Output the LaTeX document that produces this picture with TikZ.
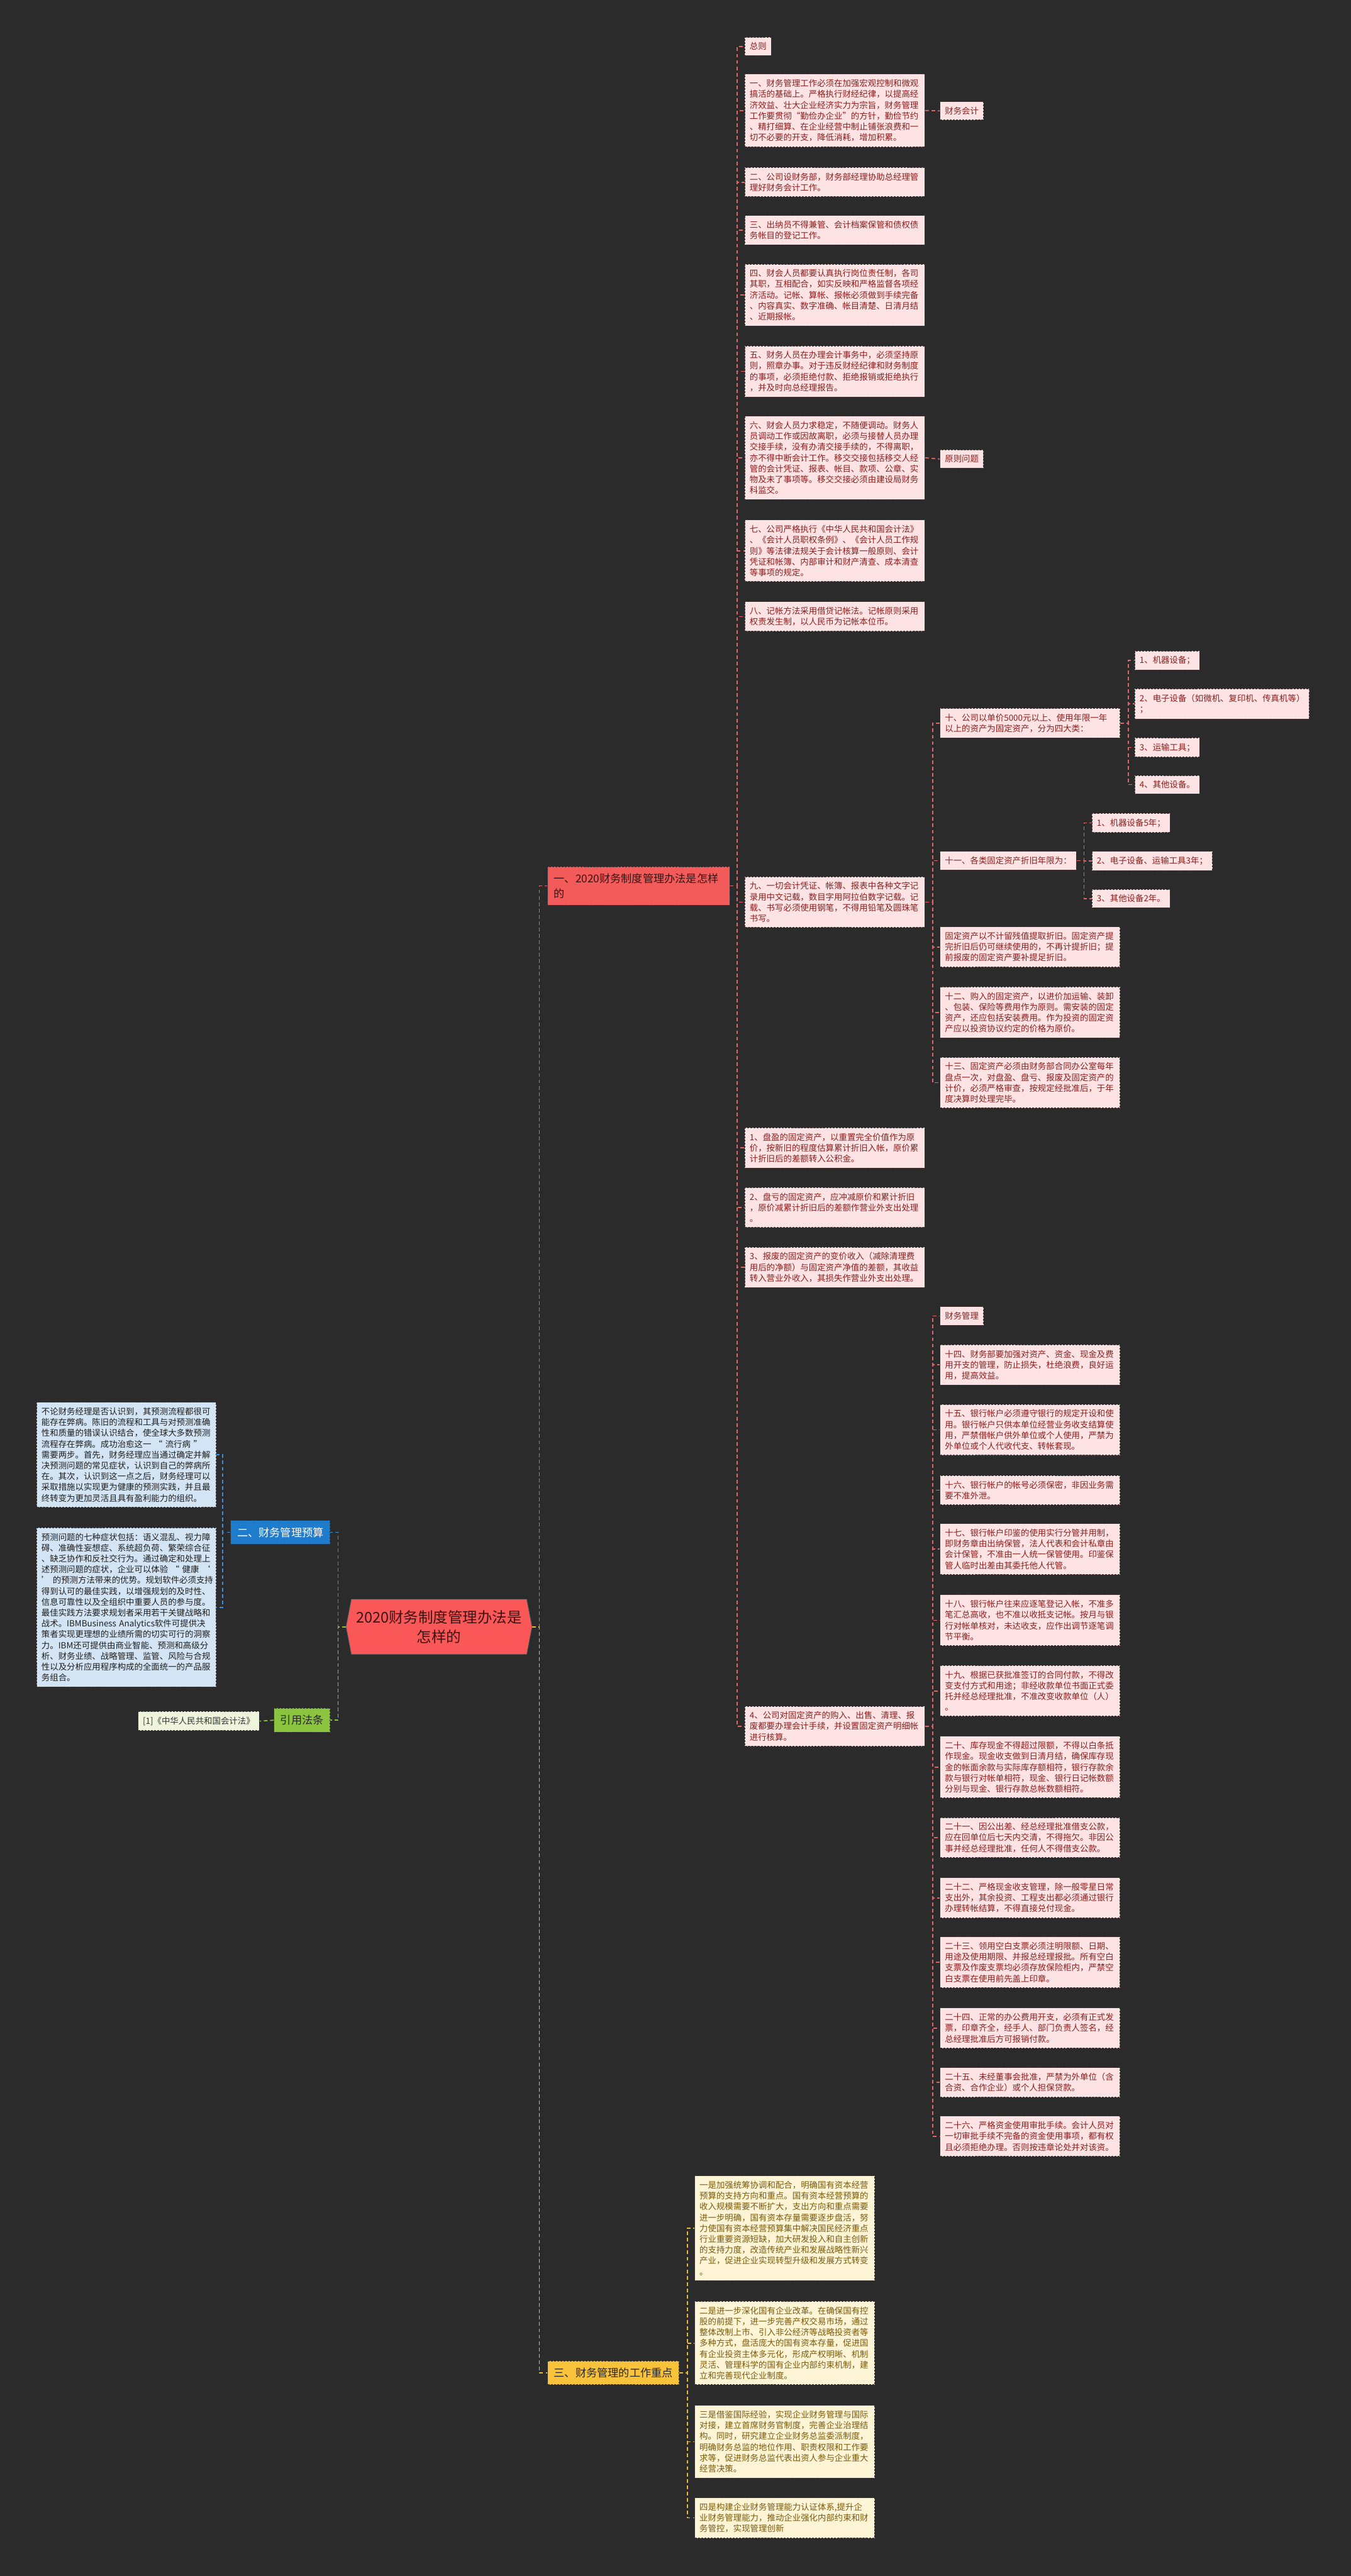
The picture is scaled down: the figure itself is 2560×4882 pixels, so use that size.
\documentclass[tikz,border=0pt]{standalone}
\usepackage{fontspec}
\setmainfont{Noto Sans CJK SC}
\usetikzlibrary{
  positioning % 节点相对定位
}
% 颜色
\definecolor{bgdark}{HTML}{2B2B2B}
\definecolor{rootred}{HTML}{FA5858}
\definecolor{roottext}{HTML}{3A1212}
\definecolor{linkred}{HTML}{E36464}
\definecolor{pinkfill}{HTML}{FDE3E3}
\definecolor{pinktext}{HTML}{8B1E1E}
\definecolor{topicred}{HTML}{F35A5A}
\definecolor{topicblue}{HTML}{1F7BCB}
\definecolor{linkblue}{HTML}{3C8FDD}
\definecolor{bluefill}{HTML}{D3E5F4}
\definecolor{bluetext}{HTML}{1E1E1E}
\definecolor{topicgreen}{HTML}{8BC53F}
\definecolor{citefill}{HTML}{EEF5DC}
\definecolor{topicyellow}{HTML}{F8C23A}
\definecolor{linkyellow}{HTML}{E9BB3C}
\definecolor{creamfill}{HTML}{FDF5D6}
\definecolor{creamtext}{HTML}{7A5A0C}
\definecolor{boxedge}{HTML}{3A3A3A}
% 字号
\newcommand\leaffont{\fontsize{16}{20.5}\selectfont}
\newcommand\topicfont{\fontsize{20.5}{28}\selectfont}
\newcommand\rootfont{\fontsize{28}{37}\selectfont}
\tikzset{
  leaf base/.style={
    rectangle,
    draw=boxedge,
    line width=1.2pt,
    dash pattern=on 4pt off 2pt,
    inner xsep=9pt,
    inner ysep=10pt,
    align=left,
    anchor=north west,
    font=\leaffont
  },
  pink leaf/.style={leaf base, fill=pinkfill, text=pinktext},
  pink para/.style={pink leaf, text width=323pt},
  blue para/.style={leaf base, fill=bluefill, text=bluetext, text width=322pt},
  cream para/.style={leaf base, fill=creamfill, text=creamtext, text width=323pt},
  cite leaf/.style={leaf base, fill=citefill, text=black!80, anchor=north east},
  topic box/.style={
    rectangle,
    draw=boxedge,
    line width=1.2pt,
    dash pattern=on 4pt off 2pt,
    inner xsep=12pt,
    inner ysep=13pt,
    align=left,
    font=\topicfont
  },
  red topic/.style={topic box, fill=topicred, text=roottext, anchor=north west, text width=321pt},
  blue topic/.style={topic box, fill=topicblue, text=white, anchor=north east},
  green topic/.style={topic box, fill=topicgreen, text=black!85, anchor=north east},
  yellow topic/.style={topic box, fill=topicyellow, text=black!85, anchor=north west},
  root node/.style={
    rectangle,
    inner sep=0pt,
    minimum width=352pt,
    minimum height=104pt,
    align=center,
    text=roottext,
    font=\rootfont
  },
  red link/.style={draw=linkred, line width=2pt, dash pattern=on 7pt off 5pt},
  blue link/.style={draw=linkblue, line width=2pt, dash pattern=on 7pt off 5pt},
  green link/.style={draw=topicgreen, line width=2pt, dash pattern=on 7pt off 5pt},
  yellow link/.style={draw=linkyellow, line width=2pt, dash pattern=on 7pt off 5pt}
}

\begin{document}
\begin{tikzpicture}[x=1pt, y=-1pt]
    % --- 画布与背景 ---
    \useasboundingbox (0,0) rectangle (2560,4882);
    \fill[bgdark] (0,0) rectangle (2560,4882);

    % --- 中心主题 (六边形) ---
    \filldraw[fill=rootred, draw=black!60, line width=1pt]
      (656,3083) -- (666,3031) -- (998,3031) -- (1008,3083) -- (998,3135) -- (666,3135) -- cycle;
    \node[root node] (root) at (832,3083) {2020财务制度管理办法是\\怎样的};

    % --- 一级分支 ---
    \node[red topic] (sec1) at (1037,1642) {一、2020财务制度管理办法是怎样\\的};
    \node[blue topic] (sec2) at (626,2881) {二、财务管理预算};
    \node[green topic] (cite) at (626,3237) {引用法条};
    \node[yellow topic] (sec3) at (1037,4474) {三、财务管理的工作重点};

    % --- 分支一: 总则至第九条 ---
    \node[pink leaf] (g0) at (1411,70) {总则};
    \node[pink para] (g1) at (1411,140) {一、财务管理工作必须在加强宏观控制和微观\\
      搞活的基础上。严格执行财经纪律，以提高经\\
      济效益、壮大企业经济实力为宗旨，财务管理\\
      工作要贯彻“勤俭办企业”的方针，勤俭节约\\
      、精打细算、在企业经营中制止铺张浪费和一\\
      切不必要的开支，降低消耗，增加积累。};
    \node[pink para] (g2) at (1411,317) {二、公司设财务部，财务部经理协助总经理管\\
      理好财务会计工作。};
    \node[pink para] (g3) at (1411,408) {三、出纳员不得兼管、会计档案保管和债权债\\
      务帐目的登记工作。};
    \node[pink para] (g4) at (1411,500) {四、财会人员都要认真执行岗位责任制，各司\\
      其职，互相配合，如实反映和严格监督各项经\\
      济活动。记帐、算帐、报帐必须做到手续完备\\
      、内容真实、数字准确、帐目清楚、日清月结\\
      、近期报帐。};
    \node[pink para] (g5) at (1411,655) {五、财务人员在办理会计事务中，必须坚持原\\
      则，照章办事。对于违反财经纪律和财务制度\\
      的事项，必须拒绝付款、拒绝报销或拒绝执行\\
      ，并及时向总经理报告。};
    \node[pink para] (g6) at (1411,788) {六、财会人员力求稳定，不随便调动。财务人\\
      员调动工作或因故离职，必须与接替人员办理\\
      交接手续，没有办清交接手续的，不得离职，\\
      亦不得中断会计工作。移交交接包括移交人经\\
      管的会计凭证、报表、帐目、款项、公章、实\\
      物及未了事项等。移交交接必须由建设局财务\\
      科监交。};
    \node[pink para] (g7) at (1411,985) {七、公司严格执行《中华人民共和国会计法》\\
      、《会计人员职权条例》、《会计人员工作规\\
      则》等法律法规关于会计核算一般原则、会计\\
      凭证和帐簿、内部审计和财产清查、成本清查\\
      等事项的规定。};
    \node[pink para] (g8) at (1411,1140) {八、记帐方法采用借贷记帐法。记帐原则采用\\
      权责发生制，以人民币为记帐本位币。};
    \node[pink para] (g9) at (1411,1661) {九、一切会计凭证、帐簿、报表中各种文字记\\
      录用中文记载，数目字用阿拉伯数字记载。记\\
      载、书写必须使用钢笔，不得用铅笔及圆珠笔\\
      书写。};
    \node[pink para] (pan1) at (1411,2137) {1、盘盈的固定资产，以重置完全价值作为原\\
      价，按新旧的程度估算累计折旧入帐，原价累\\
      计折旧后的差额转入公积金。};
    \node[pink para] (pan2) at (1411,2250) {2、盘亏的固定资产，应冲减原价和累计折旧\\
      ，原价减累计折旧后的差额作营业外支出处理\\
      。};
    \node[pink para] (pan3) at (1411,2363) {3、报废的固定资产的变价收入（减除清理费\\
      用后的净额）与固定资产净值的差额，其收益\\
      转入营业外收入，其损失作营业外支出处理。};
    \node[pink para] (pan4) at (1411,3233) {4、公司对固定资产的购入、出售、清理、报\\
      废都要办理会计手续，并设置固定资产明细帐\\
      进行核算。};

    % --- 小标题 ---
    \node[pink leaf] (kj) at (1781,192) {财务会计};
    \node[pink leaf] (yz) at (1781,852) {原则问题};

    % --- 第九条下属: 固定资产 ---
    \node[pink para] (g9a) at (1781,1342) {十、公司以单价5000元以上、使用年限一年\\
      以上的资产为固定资产，分为四大类：};
    \node[pink leaf] (g9b) at (1781,1613) {十一、各类固定资产折旧年限为：};
    \node[pink para] (g9c) at (1781,1756) {固定资产以不计留残值提取折旧。固定资产提\\
      完折旧后仍可继续使用的，不再计提折旧；提\\
      前报废的固定资产要补提足折旧。};
    \node[pink para] (g9d) at (1781,1870) {十二、购入的固定资产，以进价加运输、装卸\\
      、包装、保险等费用作为原则。需安装的固定\\
      资产，还应包括安装费用。作为投资的固定资\\
      产应以投资协议约定的价格为原价。};
    \node[pink para] (g9e) at (1781,2003) {十三、固定资产必须由财务部合同办公室每年\\
      盘点一次，对盘盈、盘亏、报废及固定资产的\\
      计价，必须严格审查，按规定经批准后，于年\\
      度决算时处理完毕。};

    \node[pink leaf] (t1) at (2150,1233) {1、机器设备；};
    \node[pink leaf] (t2) at (2150,1305) {2、电子设备（如微机、复印机、传真机等）\\；};
    \node[pink leaf] (t3) at (2150,1398) {3、运输工具；};
    \node[pink leaf] (t4) at (2150,1469) {4、其他设备。};

    \node[pink leaf] (y1) at (2069,1541) {1、机器设备5年；};
    \node[pink leaf] (y2) at (2069,1613) {2、电子设备、运输工具3年；};
    \node[pink leaf] (y3) at (2069,1685) {3、其他设备2年。};

    % --- 第四条下属: 财务管理 ---
    \node[pink leaf] (fm) at (1781,2476) {财务管理};
    \node[pink para] (f14) at (1781,2548) {十四、财务部要加强对资产、资金、现金及费\\
      用开支的管理，防止损失，杜绝浪费，良好运\\
      用，提高效益。};
    \node[pink para] (f15) at (1781,2661) {十五、银行帐户必须遵守银行的规定开设和使\\
      用。银行帐户只供本单位经营业务收支结算使\\
      用，严禁借帐户供外单位或个人使用，严禁为\\
      外单位或个人代收代支、转帐套现。};
    \node[pink para] (f16) at (1781,2796) {十六、银行帐户的帐号必须保密，非因业务需\\
      要不准外泄。};
    \node[pink para] (f17) at (1781,2887) {十七、银行帐户印鉴的使用实行分管并用制，\\
      即财务章由出纳保管，法人代表和会计私章由\\
      会计保管，不准由一人统一保管使用。印鉴保\\
      管人临时出差由其委托他人代管。};
    \node[pink para] (f18) at (1781,3022) {十八、银行帐户往来应逐笔登记入帐，不准多\\
      笔汇总高收，也不准以收抵支记帐。按月与银\\
      行对帐单核对，未达收支，应作出调节逐笔调\\
      节平衡。};
    \node[pink para] (f19) at (1781,3156) {十九、根据已获批准签订的合同付款，不得改\\
      变支付方式和用途；非经收款单位书面正式委\\
      托并经总经理批准，不准改变收款单位（人）\\
      。};
    \node[pink para] (f20) at (1781,3290) {二十、库存现金不得超过限额，不得以白条抵\\
      作现金。现金收支做到日清月结，确保库存现\\
      金的帐面余款与实际库存额相符，银行存款余\\
      款与银行对帐单相符，现金、银行日记帐数额\\
      分别与现金、银行存款总帐数额相符。};
    \node[pink para] (f21) at (1781,3444) {二十一、因公出差、经总经理批准借支公款，\\
      应在回单位后七天内交清，不得拖欠。非因公\\
      事并经总经理批准，任何人不得借支公款。};
    \node[pink para] (f22) at (1781,3558) {二十二、严格现金收支管理，除一般零星日常\\
      支出外，其余投资、工程支出都必须通过银行\\
      办理转帐结算，不得直接兑付现金。};
    \node[pink para] (f23) at (1781,3670) {二十三、领用空白支票必须注明限额、日期、\\
      用途及使用期限、并报总经理报批。所有空白\\
      支票及作废支票均必须存放保险柜内，严禁空\\
      白支票在使用前先盖上印章。};
    \node[pink para] (f24) at (1781,3805) {二十四、正常的办公费用开支，必须有正式发\\
      票，印章齐全，经手人、部门负责人签名，经\\
      总经理批准后方可报销付款。};
    \node[pink para] (f25) at (1781,3918) {二十五、未经董事会批准，严禁为外单位（含\\
      合资、合作企业）或个人担保贷款。};
    \node[pink para] (f26) at (1781,4010) {二十六、严格资金使用审批手续。会计人员对\\
      一切审批手续不完备的资金使用事项，都有权\\
      且必须拒绝办理。否则按违章论处并对该资。};

    % --- 分支二: 财务管理预算 ---
    \node[blue para] (bud1) at (69,2657) {不论财务经理是否认识到，其预测流程都很可\\
      能存在弊病。陈旧的流程和工具与对预测准确\\
      性和质量的错误认识结合，使全球大多数预测\\
      流程存在弊病。成功治愈这一 “ 流行病 ”\\
      需要两步。首先，财务经理应当通过确定并解\\
      决预测问题的常见症状，认识到自己的弊病所\\
      在。其次，认识到这一点之后，财务经理可以\\
      采取措施以实现更为健康的预测实践，并且最\\
      终转变为更加灵活且具有盈利能力的组织。};
    \node[blue para] (bud2) at (69,2895) {预测问题的七种症状包括：语义混乱、视力障\\
      碍、准确性妄想症、系统超负荷、繁荣综合征\\
      、缺乏协作和反社交行为。通过确定和处理上\\
      述预测问题的症状，企业可以体验 “ 健康 ‘\\
      ’ 的预测方法带来的优势。规划软件必须支持\\
      得到认可的最佳实践，以增强规划的及时性、\\
      信息可靠性以及全组织中重要人员的参与度。\\
      最佳实践方法要求规划者采用若干关键战略和\\
      战术。IBMBusiness Analytics软件可提供决\\
      策者实现更理想的业绩所需的切实可行的洞察\\
      力。IBM还可提供由商业智能、预测和高级分\\
      析、财务业绩、战略管理、监管、风险与合规\\
      性以及分析应用程序构成的全面统一的产品服\\
      务组合。};

    % --- 引用法条 ---
    \node[cite leaf] (ref) at (492,3243) {[1]《中华人民共和国会计法》};

    % --- 分支三: 工作重点 ---
    \node[cream para] (key1) at (1316,4123) {一是加强统筹协调和配合，明确国有资本经营\\
      预算的支持方向和重点。国有资本经营预算的\\
      收入规模需要不断扩大，支出方向和重点需要\\
      进一步明确，国有资本存量需要逐步盘活，努\\
      力使国有资本经营预算集中解决国民经济重点\\
      行业重要资源短缺，加大研发投入和自主创新\\
      的支持力度，改造传统产业和发展战略性新兴\\
      产业，促进企业实现转型升级和发展方式转变\\
      。};
    \node[cream para] (key2) at (1316,4361) {二是进一步深化国有企业改革。在确保国有控\\
      股的前提下，进一步完善产权交易市场，通过\\
      整体改制上市、引入非公经济等战略投资者等\\
      多种方式，盘活庞大的国有资本存量，促进国\\
      有企业投资主体多元化，形成产权明晰、机制\\
      灵活、管理科学的国有企业内部约束机制，建\\
      立和完善现代企业制度。};
    \node[cream para] (key3) at (1316,4558) {三是借鉴国际经验，实现企业财务管理与国际\\
      对接，建立首席财务官制度，完善企业治理结\\
      构。同时，研究建立企业财务总监委派制度，\\
      明确财务总监的地位作用、职责权限和工作要\\
      求等，促进财务总监代表出资人参与企业重大\\
      经营决策。};
    \node[cream para] (key4) at (1316,4733) {四是构建企业财务管理能力认证体系,提升企\\
      业财务管理能力，推动企业强化内部约束和财\\
      务管控，实现管理创新};

    % --- 连线: 中心到一级分支 ---
    \draw[red link] (root.east) -- ++(14,0) |- (sec1.west);
    \draw[yellow link] (root.east) -- ++(14,0) |- (sec3.west);
    \draw[blue link] (root.west) -- ++(-15,0) |- (sec2.east);
    \draw[green link] (root.west) -- ++(-15,0) |- (cite.east);

    % --- 连线: 分支一 ---
    \foreach \c in {g0,g1,g2,g3,g4,g5,g6,g7,g8,g9,pan1,pan2,pan3,pan4}
      \draw[red link] (sec1.east) -- ++(14,0) |- (\c.west);
    \draw[red link] (g1.east) -- (kj.west);
    \draw[red link] (g6.east) -- (yz.west);
    \foreach \c in {g9a,g9b,g9c,g9d,g9e}
      \draw[red link] (g9.east) -- ++(14,0) |- (\c.west);
    \foreach \c in {t1,t2,t3,t4}
      \draw[red link] (g9a.east) -- ++(15,0) |- (\c.west);
    \foreach \c in {y1,y2,y3}
      \draw[red link] (g9b.east) -- ++(14,0) |- (\c.west);
    \foreach \c in {fm,f14,f15,f16,f17,f18,f19,f20,f21,f22,f23,f24,f25,f26}
      \draw[red link] (pan4.east) -- ++(14,0) |- (\c.west);

    % --- 连线: 分支二、引用、分支三 ---
    \foreach \c in {bud1,bud2}
      \draw[blue link] (sec2.west) -- ++(-15,0) |- (\c.east);
    \draw[green link] (cite.west) -- (ref.east);
    \foreach \c in {key1,key2,key3,key4}
      \draw[yellow link] (sec3.east) -- ++(15,0) |- (\c.west);

  \end{tikzpicture}
\end{document}
